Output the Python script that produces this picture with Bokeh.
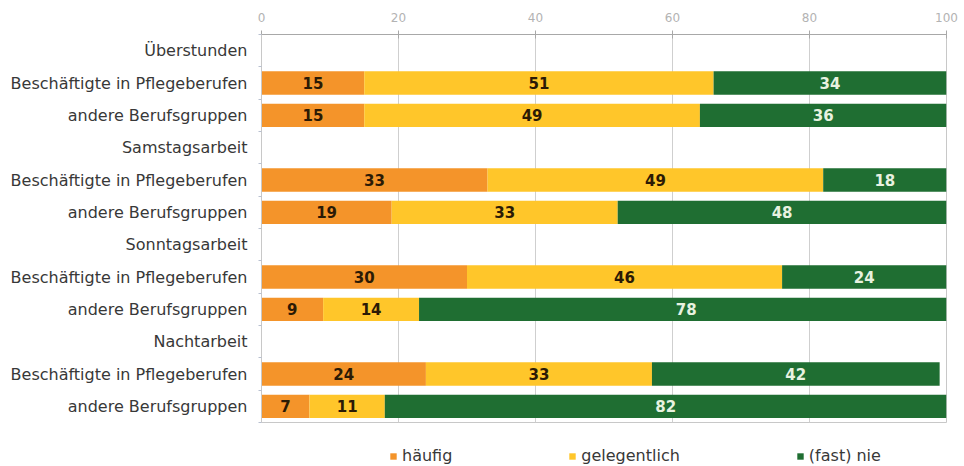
from bokeh.plotting import figure
from bokeh.layouts import column
from bokeh.models import ColumnDataSource, FixedTicker, Legend, LegendItem, Range1d
from bokeh.core.properties import value
from bokeh.embed import file_html
from bokeh.resources import INLINE

groups = ["Überstunden", "Samstagsarbeit", "Sonntagsarbeit", "Nachtarbeit"]
row_labels = ["Beschäftigte in Pflegeberufen", "andere Berufsgruppen"]
series = ["häufig", "gelegentlich", "(fast) nie"]
haeufig = [15, 15, 33, 19, 30, 9, 24, 7]
gelegentlich = [51, 49, 49, 33, 46, 14, 33, 11]
fast_nie = [34, 36, 18, 48, 24, 78, 42, 82]
x_ticks = [0, 20, 40, 60, 80, 100]

colors = ["#F4942A", "#FFC62A", "#1F6E32"]
text_colors = ["#2b1a05", "#2b1a05", "#e8f2e0"]

ypos = []
labels = {}
for g, grp in enumerate(groups):
    labels[g * 3] = grp
    for r, rl in enumerate(row_labels):
        y = g * 3 + 1 + r
        labels[y] = rl
        ypos.append(y)
n_rows = len(groups) * 3

p = figure(width=964, height=426, output_backend="svg", toolbar_location=None,
           x_range=Range1d(0, 100), y_range=Range1d(n_rows - 0.5, -0.5),
           x_axis_location="above",
           min_border_left=261, min_border_right=18, min_border_top=34, min_border_bottom=4)
p.outline_line_color = "#c8c8c8"

vals = [haeufig, gelegentlich, fast_nie]
left = [0] * len(ypos)
for s, name in enumerate(series):
    right = [l + v for l, v in zip(left, vals[s])]
    src = ColumnDataSource(dict(y=ypos, left=left, right=right,
                                mid=[(l + r) / 2 for l, r in zip(left, right)],
                                txt=[str(v) for v in vals[s]]))
    p.hbar(y="y", left="left", right="right", height=0.72, source=src,
           fill_color=colors[s], line_color=None)
    p.text(x="mid", y="y", text="txt", source=src, text_align="center", text_baseline="middle",
           text_font=value("DejaVu Sans"), text_font_style="bold", text_font_size="15px",
           text_color=text_colors[s])
    left = right

xa = p.xaxis[0]
xa.ticker = FixedTicker(ticks=x_ticks)
xa.axis_line_color = "#a8a8a8"
xa.major_tick_line_color = "#a8a8a8"
xa.major_tick_in = 4
xa.major_tick_out = 4
xa.minor_tick_line_color = None
xa.major_label_text_color = "#b3b3b3"
xa.major_label_text_font = "DejaVu Sans"
xa.major_label_text_font_size = "12px"
xa.major_label_standoff = 9

ya = p.yaxis[0]
ya.ticker = FixedTicker(ticks=list(range(n_rows)),
                        minor_ticks=[i - 0.5 for i in range(n_rows + 1)])
ya.major_label_overrides = {k: v for k, v in labels.items()}
ya.axis_line_color = "#c8c8c8"
ya.major_tick_line_color = None
ya.minor_tick_line_color = "#b8c0d0"
ya.minor_tick_in = 0
ya.minor_tick_out = 3
ya.major_label_text_color = "#383838"
ya.major_label_text_font = "DejaVu Sans"
ya.major_label_text_font_size = "16px"
ya.major_label_standoff = 8

p.xgrid.grid_line_color = "#cfcfcf"
p.xgrid.ticker = FixedTicker(ticks=x_ticks)
p.ygrid.grid_line_color = None

# legend strip below the chart (swatch renderers have zero-width bars)
lg = figure(width=964, height=40, output_backend="svg", toolbar_location=None,
            x_range=Range1d(0, 100), y_range=Range1d(0, 1),
            min_border_left=261, min_border_right=18, min_border_top=0, min_border_bottom=0)
lg.axis.visible = False
lg.grid.visible = False
lg.outline_line_color = None
items = []
for s, name in enumerate(series):
    swatch = ColumnDataSource(dict(y=[0], left=[0], right=[0]))
    r = lg.hbar(y="y", left="left", right="right", height=0, source=swatch,
                fill_color=colors[s], line_color=None)
    items.append(LegendItem(label=name, renderers=[r]))
legend = Legend(items=items, orientation="horizontal", location=(128, 1),
                glyph_width=8, glyph_height=8, label_standoff=5, spacing=116,
                border_line_color=None, background_fill_alpha=0,
                label_text_font="DejaVu Sans", label_text_font_size="16px",
                label_text_color="#383838", padding=4, margin=0)
lg.add_layout(legend, "center")

open("out.html", "w").write(file_html(column(p, lg, spacing=0), INLINE))
